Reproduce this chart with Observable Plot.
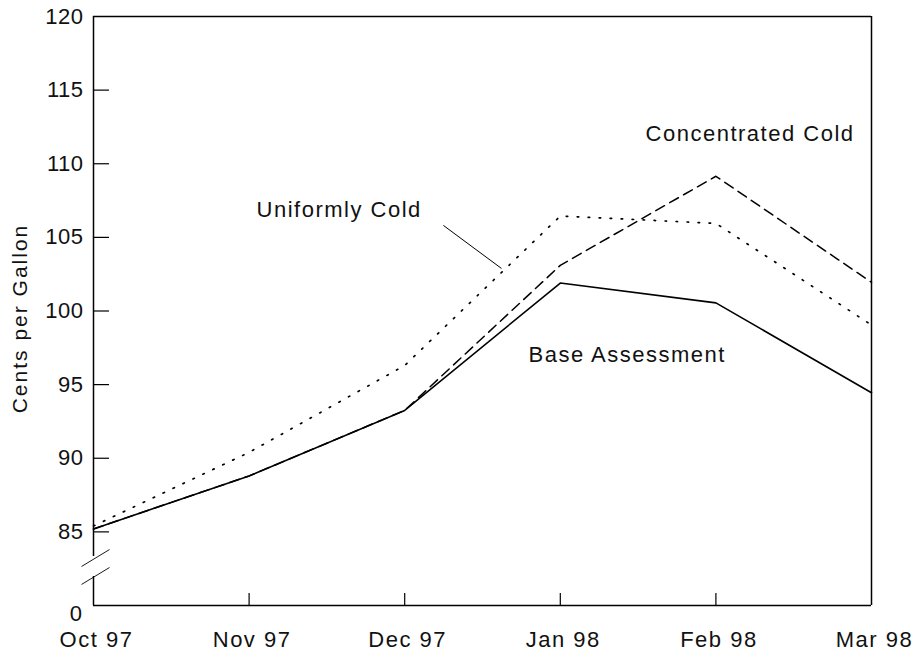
<!DOCTYPE html>
<html>
<head>
<meta charset="utf-8">
<script src="https://cdn.jsdelivr.net/npm/d3@7"></script>
<script src="https://cdn.jsdelivr.net/npm/@observablehq/plot@0.6"></script>
<style>
  html, body { margin: 0; padding: 0; background: #fff; }
  svg { font-family: "Liberation Sans", Arial, Helvetica, sans-serif; }
</style>
</head>
<body>
<div id="chart"></div>
<script>
// Data
const months = ["Oct 97", "Nov 97", "Dec 97", "Jan 98", "Feb 98", "Mar 98"];
const baseAssessment = [85.2, 88.8, 93.25, 101.9, 100.55, 94.45];
const concentratedCold = [85.2, 88.8, 93.25, 103.1, 109.15, 101.95];
const uniformlyCold = [85.4, 90.4, 96.3, 106.45, 105.95, 99.05];
const yTickValues = [80, 85, 90, 95, 100, 105, 110, 115, 120]; // 80 stands for the broken-axis "0"
const yTickLabels = ["0", "85", "90", "95", "100", "105", "110", "115", "120"];
const yTitle = "Cents per Gallon";
const seriesLabels = [
  {name: "Concentrated Cold", x: 3.548, y: 111.99},
  {name: "Uniformly Cold", x: 1.048, y: 106.87},
  {name: "Base Assessment", x: 2.796, y: 97.01}
];
const leader = [{x1: 2.249, y1: 105.81, x2: 2.622, y2: 102.89}];
const breakMarks = [
  {x1: -0.077, y1: 82.65, x2: 0.103, y2: 83.80},
  {x1: -0.077, y1: 81.43, x2: 0.103, y2: 82.58}
];

const rows = (vals) => vals.map((v, i) => ({i, v}));
const idx = months.map((_, i) => i);
const innerX = [1, 2, 3, 4];
const yMain = yTickValues.filter(d => d !== 80);

const font = {fontSize: 22, fill: "#111"};

const chart = Plot.plot({
  width: 919,
  height: 654,
  marginLeft: 93,
  marginRight: 48,
  marginTop: 16,
  marginBottom: 49,
  x: {type: "linear", domain: [0, 5], axis: null},
  y: {type: "linear", domain: [80, 120], axis: null},
  marks: [
    // frame with axis break
    Plot.ruleY([120], {x1: 0, x2: 5, stroke: "#000", strokeWidth: 1.5}),
    Plot.ruleY([80], {x1: 0, x2: 5, stroke: "#000", strokeWidth: 1.5}),
    Plot.ruleX([5], {y1: 80, y2: 120, stroke: "#000", strokeWidth: 1.5}),
    Plot.ruleX([0], {y1: 83.33, y2: 120, stroke: "#000", strokeWidth: 1.5}),
    Plot.ruleX([0], {y1: 80, y2: 81.97, stroke: "#000", strokeWidth: 1.5}),
    Plot.link(breakMarks, {x1: "x1", y1: "y1", x2: "x2", y2: "y2", stroke: "#000", strokeWidth: 0.9}),
    // inward ticks
    Plot.ruleY(yMain.filter(d => d !== 120), {x1: 0, x2: 0.103, stroke: "#000", strokeWidth: 1.2}),
    Plot.ruleX(innerX, {y1: 80, y2: 80.815, stroke: "#000", strokeWidth: 1.2}),
    // tick labels (y tick labels first: letter-spacing set below)
    Plot.text(yTickValues.filter(d => d !== 80), {x: 0, y: d => d, text: d => yTickLabels[yTickValues.indexOf(d)], dx: -10, textAnchor: "end", ...font}),
    Plot.text([80], {x: 0, y: d => d, text: d => yTickLabels[yTickValues.indexOf(d)], dx: -10, dy: 8, textAnchor: "end", ...font}),
    Plot.text(idx, {x: d => d, y: 80, text: d => months[d], dy: 34, dx: 3, textAnchor: "middle", ...font}),
    Plot.text([yTitle], {frameAnchor: "left", rotate: -90, dx: -73, dy: 7.5, textAnchor: "middle", fontSize: 21, fill: "#111"}),
    // series
    Plot.line(rows(baseAssessment), {x: "i", y: "v", stroke: "#000", strokeWidth: 1.6}),
    Plot.line(rows(concentratedCold), {x: "i", y: "v", stroke: "#000", strokeWidth: 1.5, strokeDasharray: "10,6"}),
    Plot.line(rows(uniformlyCold), {x: "i", y: "v", stroke: "#000", strokeWidth: 1.7, strokeDasharray: "1.5,9.5"}),
    // annotations
    Plot.link(leader, {x1: "x1", y1: "y1", x2: "x2", y2: "y2", stroke: "#000", strokeWidth: 1}),
    Plot.text(seriesLabels, {x: "x", y: "y", text: "name", textAnchor: "start", ...font})
  ]
});
// letter spacing to match the reference's wide-set type
const textGroups = chart.querySelectorAll('g[aria-label="text"]');
textGroups.forEach((g, k) => {
  g.setAttribute("letter-spacing", k === 0 ? "0.5px" : (k === 3 ? "2px" : "1.5px"));
});
document.getElementById("chart").appendChild(chart);
</script>
</body>
</html>
